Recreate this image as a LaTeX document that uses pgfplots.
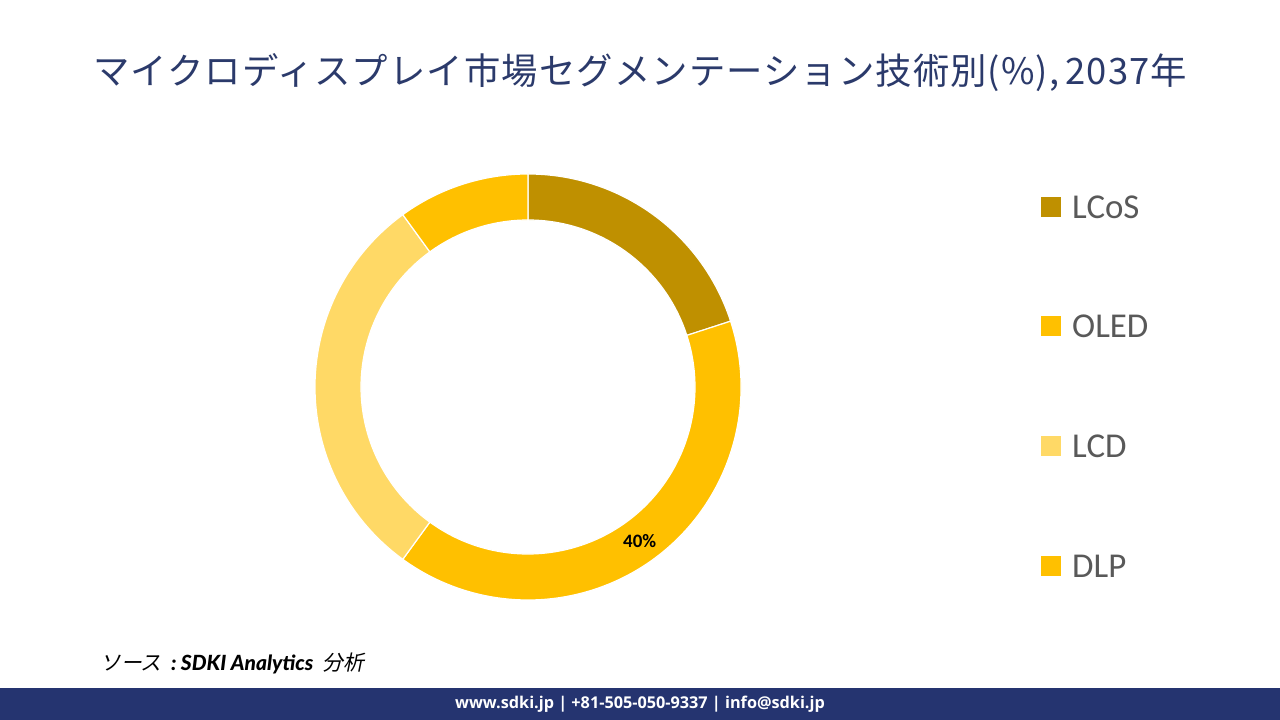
\documentclass[border=0pt]{standalone}
\usepackage{pgfplots}
\pgfplotsset{compat=1.18}
\usepackage{pgfplotstable}
\usepackage{fontspec}
\usetikzlibrary{calc}
\setmainfont{Carlito}
\newfontfamily\cjk[LetterSpace=3]{Noto Sans CJK JP}
\newfontfamily\cjkit[FakeSlant=0.2]{Noto Sans CJK JP}
\newfontfamily\latoit[ItalicFont={Lato Bold Italic}]{Lato}
\newfontfamily\opensans{Open Sans}
\definecolor{cLCoS}{HTML}{BF9000}
\definecolor{cOLED}{HTML}{FFC000}
\definecolor{cLCD}{HTML}{FFD966}
\definecolor{cDLP}{HTML}{FFC000}
\definecolor{titlec}{HTML}{2B3A6B}
\definecolor{footc}{HTML}{253470}
\definecolor{legc}{HTML}{595959}

\pgfplotstableread{
name value
LCoS 20
OLED 40
LCD 30
DLP 10
}\sharedata

\pgfplotstablegetelem{0}{value}\of\sharedata \let\vA\pgfplotsretval
\pgfplotstablegetelem{1}{value}\of\sharedata \let\vB\pgfplotsretval
\pgfplotstablegetelem{2}{value}\of\sharedata \let\vC\pgfplotsretval
\pgfplotstablegetelem{3}{value}\of\sharedata \let\vD\pgfplotsretval
\pgfmathsetmacro\aO{90}
\pgfmathsetmacro\aA{\aO-3.6*\vA}
\pgfmathsetmacro\aB{\aA-3.6*\vB}
\pgfmathsetmacro\aC{\aB-3.6*\vC}
\pgfmathsetmacro\aD{\aC-3.6*\vD}
\pgfmathsetmacro\mB{(\aA+\aB)/2}

\def\Ro{213bp}
\def\Ri{167bp}

\begin{document}
\begin{tikzpicture}
\begin{axis}[
  x=1bp, y=1bp,
  xmin=0, xmax=1280, ymin=0, ymax=720,
  hide axis, clip=false, scale only axis,
  at={(0,0)}, anchor=origin,
]
\fill[white] (axis cs:0,0) rectangle (axis cs:1280,720);
\coordinate (C) at (axis cs:528,333);
% donut segments
\foreach \s/\e/\c in {\aO/\aA/cLCoS, \aA/\aB/cOLED, \aB/\aC/cLCD, \aC/\aD/cDLP}{
  \edef\tmp{\noexpand\fill[\c, draw=white, line width=1.2bp] ($(C)+(\s:\Ro)$) arc[start angle=\s, end angle=\e, radius=\Ro] -- ($(C)+(\e:\Ri)$) arc[start angle=\e, end angle=\s, radius=\Ri] -- cycle;}
  \tmp
}
\node[font=\fontsize{19}{19}\selectfont\bfseries, text=black] at ($(C)+(\mB:190bp)$) {\vB\%};
% title
\node[font=\cjk\fontsize{36.5}{36.5}\selectfont, text=titlec] at (axis cs:640,647) {マイクロディスプレイ市場セグメンテーション技術別(\%),\,2037年};
% legend
\foreach \y/\c/\t in {513/cLCoS/LCoS, 394/cOLED/OLED, 274/cLCD/LCD, 154/cDLP/DLP}{
  \edef\tmp{\noexpand\fill[\c] (axis cs:1041,\y-10) rectangle (axis cs:1061,\y+10);
  \noexpand\node[anchor=west, font=\noexpand\fontsize{35}{35}\noexpand\selectfont, text=legc, inner sep=0pt] at (axis cs:1072,\y) {\t};}
  \tmp
}
% source
\node[anchor=west, inner sep=0pt, font=\fontsize{21}{21}\selectfont] at (axis cs:100,57) {\cjkit ソース\ {\latoit\itshape\bfseries\ :\ SDKI Analytics}\ \ \cjkit 分析};
% footer
\fill[footc] (axis cs:0,0) rectangle (axis cs:1280,32);
\node[text=white, font=\opensans\bfseries\fontsize{16.3}{16.3}\selectfont] at (axis cs:640,16) {www.sdki.jp | +81-505-050-9337 | info@sdki.jp};
\end{axis}
\end{tikzpicture}
\end{document}
